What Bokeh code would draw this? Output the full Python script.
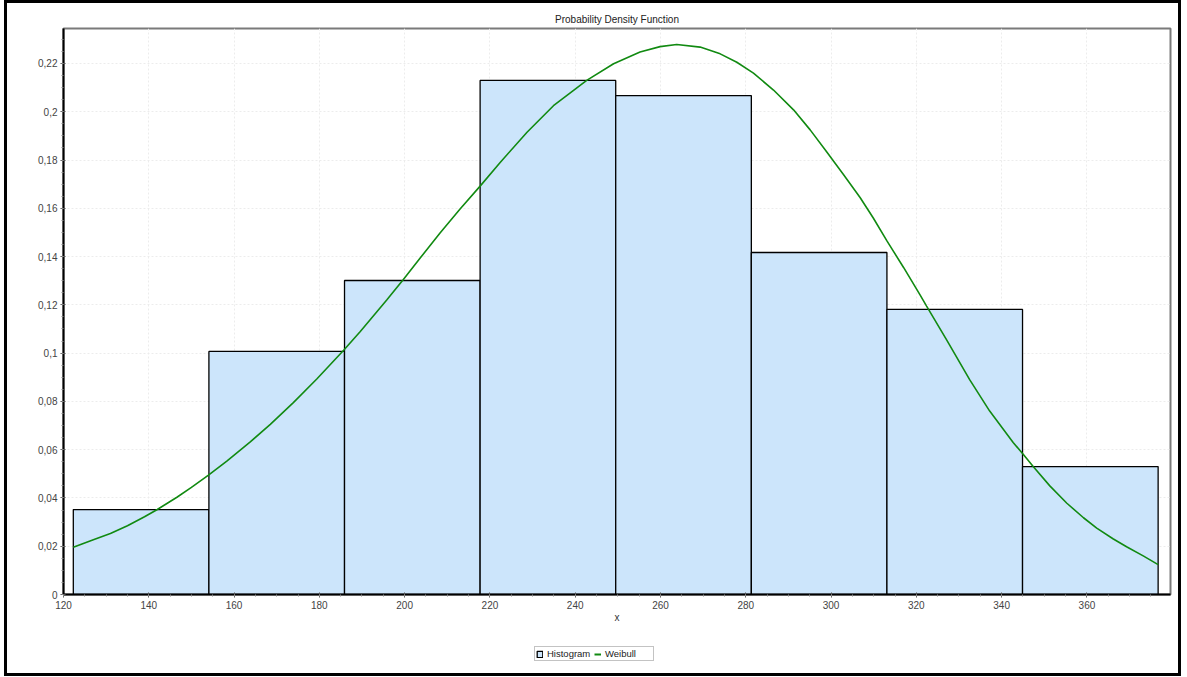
from bokeh.plotting import figure
from bokeh.layouts import column
from bokeh.models import (Range1d, FixedTicker, CustomJSTickFormatter, Legend, LegendItem)
from bokeh.embed import file_html
from bokeh.resources import INLINE

# ---- data ----
bin_left = [122.3, 154.1, 185.9, 217.7, 249.5, 281.3, 313.1, 344.9]
bin_right = [154.1, 185.9, 217.7, 249.5, 281.3, 313.1, 344.9, 376.7]
density = [0.0352, 0.1007, 0.1301, 0.2130, 0.2067, 0.1417, 0.1181, 0.0530]

weibull_x = [122.3, 127.0, 131.0, 135.0, 139.0, 142.0, 146.6, 150.0, 154.0, 158.3,
             163.8, 168.5, 173.9, 179.4, 185.7, 189.6, 195.8, 199.7, 203.6, 208.3,
             213.0, 217.7, 222.4, 228.7, 234.9, 242.7, 249.0, 255.2, 259.9, 263.8,
             269.3, 274.0, 277.9, 281.8, 286.5, 291.2, 295.1, 299.0, 302.9, 306.8,
             309.9, 313.1, 317.0, 320.9, 322.4, 327.1, 332.5, 337.2, 342.7, 345.1,
             347.4, 351.3, 355.3, 359.2, 362.3, 366.2, 369.3, 373.2, 376.7]
weibull_y = [0.0196, 0.0227, 0.0253, 0.0285, 0.0322, 0.0352, 0.0403, 0.0444, 0.0495, 0.0553,
             0.0632, 0.0705, 0.0795, 0.0893, 0.1012, 0.1090, 0.1220, 0.1305, 0.1393, 0.1498,
             0.1597, 0.1692, 0.1790, 0.1915, 0.2025, 0.2130, 0.2199, 0.2248, 0.2270, 0.2279,
             0.2268, 0.2240, 0.2205, 0.2160, 0.2090, 0.2008, 0.1925, 0.1833, 0.1740, 0.1645,
             0.1560, 0.1465, 0.1355, 0.1240, 0.1195, 0.1055, 0.0890, 0.0760, 0.0630, 0.0580,
             0.0530, 0.0450, 0.0378, 0.0318, 0.0275, 0.0230, 0.0198, 0.0160, 0.0124]

x_ticks = [120, 140, 160, 180, 200, 220, 240, 260, 280, 300, 320, 340, 360]
y_ticks = [0, 0.02, 0.04, 0.06, 0.08, 0.1, 0.12, 0.14, 0.16, 0.18, 0.2, 0.22]

x_minor = [120 + 5 * i for i in range(52)]
y_minor = [round(0.005 * i, 4) for i in range(47)]

legend_labels = ["Histogram", "Weibull"]

FONT = "Liberation Sans"
BAR_FILL = "#cce5fb"
CURVE_COLOR = "#118a11"
BORDER_L, BORDER_R = 59, 11

p = figure(width=1177, height=676, output_backend="svg", toolbar_location=None,
           x_range=Range1d(120, 379.6), y_range=Range1d(0, 0.2345),
           min_border_left=BORDER_L, min_border_right=BORDER_R, min_border_top=28,
           min_border_bottom=82, title="Probability Density Function")
p.border_fill_color = None
p.styles = {"box-shadow": "inset 0 0 0 3px black", "margin-left": "4px",
            "background-color": "white"}

p.title.align = "center"
p.title.text_font = FONT
p.title.text_font_size = "10px"
p.title.text_font_style = "normal"
p.title.text_color = "#222222"
p.title.standoff = 8

p.outline_line_color = "#7a7a7a"
p.outline_line_width = 2

p.quad(left=bin_left, right=bin_right, bottom=0, top=density,
       fill_color=BAR_FILL, line_color="black", line_width=1.3)
p.line(weibull_x, weibull_y, line_color=CURVE_COLOR, line_width=1.6)

p.xaxis.ticker = FixedTicker(ticks=x_ticks, minor_ticks=x_minor)
p.yaxis.ticker = FixedTicker(ticks=y_ticks, minor_ticks=y_minor)
p.yaxis.formatter = CustomJSTickFormatter(
    code="return String(parseFloat(tick.toFixed(4))).replace('.', ',');")
p.xaxis.axis_label = "x"

for ax in (p.xaxis, p.yaxis):
    ax.axis_line_color = "black"
    ax.axis_line_width = 2
    ax.major_tick_line_color = "#555555"
    ax.minor_tick_line_color = "#888888"
    ax.major_tick_in = 2
    ax.major_tick_out = 3
    ax.minor_tick_in = 0
    ax.minor_tick_out = 2
    ax.major_label_text_font = FONT
    ax.major_label_text_font_size = "10px"
    ax.major_label_text_color = "#444444"
    ax.axis_label_text_font = FONT
    ax.axis_label_text_font_size = "10px"
    ax.axis_label_text_font_style = "normal"
    ax.axis_label_text_color = "#333333"
    ax.major_label_standoff = 3
    ax.axis_label_standoff = 0

p.xgrid.grid_line_color = "#ececec"
p.ygrid.grid_line_color = "#ececec"
p.xgrid.grid_line_dash = "2 2"
p.ygrid.grid_line_dash = "2 2"

# ---- legend: a small separate figure placed below the chart ----
lg = figure(width=120 + BORDER_L + BORDER_R, height=15, output_backend="svg",
            toolbar_location=None, x_range=Range1d(0, 1), y_range=Range1d(0, 1),
            min_border_left=BORDER_L, min_border_right=BORDER_R,
            min_border_top=0, min_border_bottom=0)
lg.axis.visible = False
lg.grid.visible = False
lg.outline_line_color = None
lg.border_fill_color = None
lg.background_fill_color = None
lg.margin = (-30, 0, 0, 534 - BORDER_L)
# proxy glyphs (placed outside the visible range) that only feed the legend
r_hist = lg.quad(left=[10], right=[11], bottom=[10], top=[11],
                 fill_color=BAR_FILL, line_color="black", line_width=1.3)
r_weib = lg.line(x=[10, 11], y=[10, 11], line_color=CURVE_COLOR, line_width=2)

legend = Legend(items=[LegendItem(label=legend_labels[0], renderers=[r_hist]),
                       LegendItem(label=legend_labels[1], renderers=[r_weib])],
                location="top_left", orientation="horizontal")
legend.label_text_font = FONT
legend.label_text_font_size = "9.5px"
legend.label_text_color = "#222222"
legend.glyph_width = 7
legend.glyph_height = 8
legend.label_standoff = 4
legend.spacing = 0
legend.padding = 1
legend.margin = 0
legend.label_height = 9
legend.label_width = 47
legend.border_line_color = "#888888"
legend.border_line_width = 1
legend.background_fill_color = "white"
legend.background_fill_alpha = 1
lg.add_layout(legend, "center")

layout = column(p, lg, spacing=0)
open("out.html", "w").write(file_html(layout, INLINE))
